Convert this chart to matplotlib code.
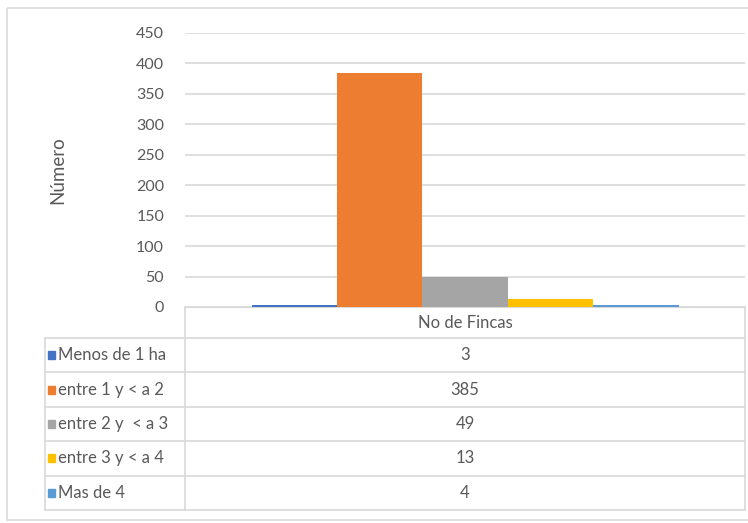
import matplotlib
matplotlib.use("Agg")
import matplotlib.pyplot as plt
from matplotlib.patches import Rectangle

plt.rcParams['font.family'] = ['Lato', 'DejaVu Sans']

# Data
category = "No de Fincas"
series_names = ["Menos de 1 ha", "entre 1 y < a 2", "entre 2 y  < a 3", "entre 3 y < a 4", "Mas de 4"]
values = [3, 385, 49, 13, 4]
colors = ["#4472C4", "#ED7D31", "#A5A5A5", "#FFC000", "#5B9BD5"]
yticks = [0, 50, 100, 150, 200, 250, 300, 350, 400, 450]

W, H = 748, 523
fig = plt.figure(figsize=(W / 100, H / 100), dpi=100)
text_color = "#595959"
line_color = "#D9D9D9"
fs = 11.5

# Chart border
border = fig.add_axes([0, 0, 1, 1])
border.set_xlim(0, W)
border.set_ylim(H, 0)
border.axis("off")
border.add_patch(Rectangle((7, 8), W, 512, fill=False, edgecolor=line_color, lw=1.2))

# Plot area
x0, x1 = 185, 745
ytop, ybot = 33, 307
ax = fig.add_axes([x0 / W, 1 - ybot / H, (x1 - x0) / W, (ybot - ytop) / H])
ax.set_xlim(0, 1)
ax.set_ylim(0, 450)
n = len(values)
group = 427 / 560
bw = group / n
start = 0.5 - group / 2
for i, (v, c) in enumerate(zip(values, colors)):
    ax.bar(start + bw * (i + 0.5), v, width=bw, color=c, zorder=3)
ax.set_yticks(yticks)
ax.set_xticks([])
ax.yaxis.grid(True, color=line_color, lw=1.2, zorder=0)
for s in ["top", "right", "left"]:
    ax.spines[s].set_visible(False)
ax.spines["bottom"].set_color(line_color)
ax.tick_params(axis="y", length=0, pad=15, labelsize=fs, labelcolor=text_color)
ax.set_ylabel("Número", fontsize=13.5, color=text_color, labelpad=50)

# Data table below the plot
rows_top = 338
row_h = 34.4
tab_left = 45
border.plot([x0, x0], [ybot, rows_top + row_h * n], color=line_color, lw=1.2)
border.plot([x1, x1], [ybot, rows_top + row_h * n], color=line_color, lw=1.2)
border.plot([tab_left, tab_left], [rows_top, rows_top + row_h * n], color=line_color, lw=1.2)
for k in range(n + 1):
    yy = rows_top + row_h * k
    border.plot([tab_left, x1], [yy, yy], color=line_color, lw=1.2)
border.text((x0 + x1) / 2, (ybot + rows_top) / 2, category, ha="center", va="center",
            fontsize=fs + 0.5, color=text_color)
for k, (name, v, c) in enumerate(zip(series_names, values, colors)):
    yc = rows_top + row_h * (k + 0.5)
    border.add_patch(Rectangle((48, yc - 4), 7, 8, color=c))
    border.text(58, yc, name, ha="left", va="center", fontsize=fs + 0.5, color=text_color)
    border.text((x0 + x1) / 2, yc, str(v), ha="center", va="center", fontsize=fs + 0.5, color=text_color)

fig.savefig("out.png", dpi=100)
